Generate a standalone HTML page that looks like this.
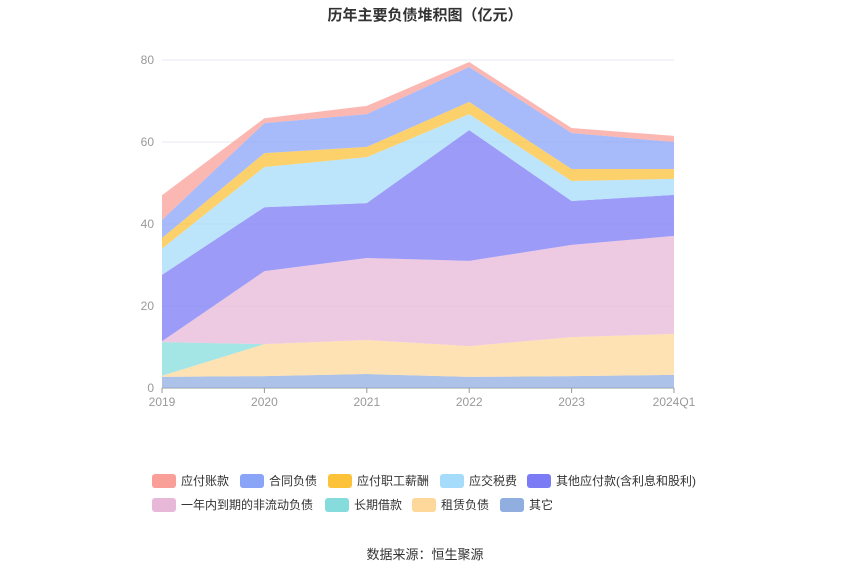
<!DOCTYPE html>
<html><head><meta charset="utf-8"><style>
body{margin:0;background:#fff;font-family:"Liberation Sans","Noto Sans CJK SC",sans-serif;}
</style></head><body>
<svg width="850" height="575" xmlns="http://www.w3.org/2000/svg" id="svg">
<text x="425" y="20" text-anchor="middle" font-size="15" font-weight="bold" fill="#333">历年主要负债堆积图（亿元）</text>
<g id="grid"></g><g id="areas"></g><g id="axes"></g><g id="legend"></g>
<text x="425" y="559" text-anchor="middle" font-size="13" fill="#333">数据来源：恒生聚源</text>
</svg>
<script>
const categories=["2019","2020","2021","2022","2023","2024Q1"];
const seriesNames=["其它","租赁负债","长期借款","一年内到期的非流动负债","其他应付款(含利息和股利)","应交税费","应付职工薪酬","合同负债","应付账款"];
const qita=[2.7,2.9,3.4,2.7,2.9,3.2];
const zulin=[0.3,7.8,8.3,7.5,9.5,10.0];
const changqi=[8.2,0,0,0,0,0];
const yinian=[0.2,17.8,20.0,20.8,22.5,23.9];
const qitayingfu=[16.2,15.6,13.4,31.9,10.7,10.0];
const shuifei=[6.4,9.8,11.2,3.9,4.9,3.9];
const zhigong=[2.6,3.4,2.5,3.0,2.9,2.4];
const hetong=[4.4,7.3,8.0,8.5,8.8,6.6];
const zhangkuan=[6.0,1.2,2.0,1.2,1.2,1.5];
const yTicks=[0,20,40,60,80];
const series=[qita,zulin,changqi,yinian,qitayingfu,shuifei,zhigong,hetong,zhangkuan];
const colors=["#90aee0","#fed89a","#86dcdc","#e8b8d8","#7b7bf5","#a5dcfb","#fbc23a","#8aa4f8","#fa9f98"];
const NS="http://www.w3.org/2000/svg";
const x0=162,x1=674,y0=388,y1=60,yMax=80;
const xs=i=>x0+(x1-x0)*i/(categories.length-1);
const ys=v=>y0-(y0-y1)*v/yMax;
function mk(t,a,p){const e=document.createElementNS(NS,t);for(const k in a)e.setAttribute(k,a[k]);p.appendChild(e);return e;}
const grid=document.getElementById('grid'),axes=document.getElementById('axes'),areas=document.getElementById('areas'),legend=document.getElementById('legend');
yTicks.forEach(v=>{
 const l=mk('line',{x1:x0,x2:x1,y1:ys(v),y2:ys(v),stroke:v===0?'#999':'#e6e9f0','stroke-width':1},grid);
 
 
 const t=mk('text',{x:x0-8,y:ys(v)+4,'text-anchor':'end','font-size':12,fill:'#999'},axes);t.textContent=v;
 
 
});
categories.forEach((c,i)=>{
 const tk=mk('line',{x1:xs(i),x2:xs(i),y1:y0,y2:y0+5,stroke:'#999'},axes);
 
 
 const t=mk('text',{x:xs(i),y:y0+18,'text-anchor':'middle','font-size':12,fill:'#999'},axes);t.textContent=c;
 
 
});
let base=categories.map(()=>0);
series.forEach((s,si)=>{
 const top=base.map((b,i)=>b+s[i]);
 let d='M'+top.map((v,i)=>xs(i)+','+ys(v)).join('L');
 for(let i=categories.length-1;i>=0;i--)d+='L'+xs(i)+','+ys(base[i]);
 const p=mk('path',{d:d+'Z',fill:colors[si],'fill-opacity':0.75,stroke:'none'},areas);
 
 
 base=top;
});
const legendOrder=[8,7,6,5,4,3,2,1,0];
const legendLabels=["应付账款","合同负债","应付职工薪酬","应交税费","其他应付款(含利息和股利)","一年内到期的非流动负债","长期借款","租赁负债","其它"];
const lx=[152,240,328,440,527,152,325,412,500],ly=[481,481,481,481,481,505,505,505,505];
legendOrder.forEach((si,k)=>{
 const g=mk('g',{},legend);
 
 
 mk('rect',{x:lx[k],y:ly[k]-7,width:24,height:14,rx:3,fill:colors[si]},g);
 const t=mk('text',{x:lx[k]+29,y:ly[k]+4,'font-size':12,fill:'#333'},g);t.textContent=legendLabels[k];
});
</script>
</body></html>
